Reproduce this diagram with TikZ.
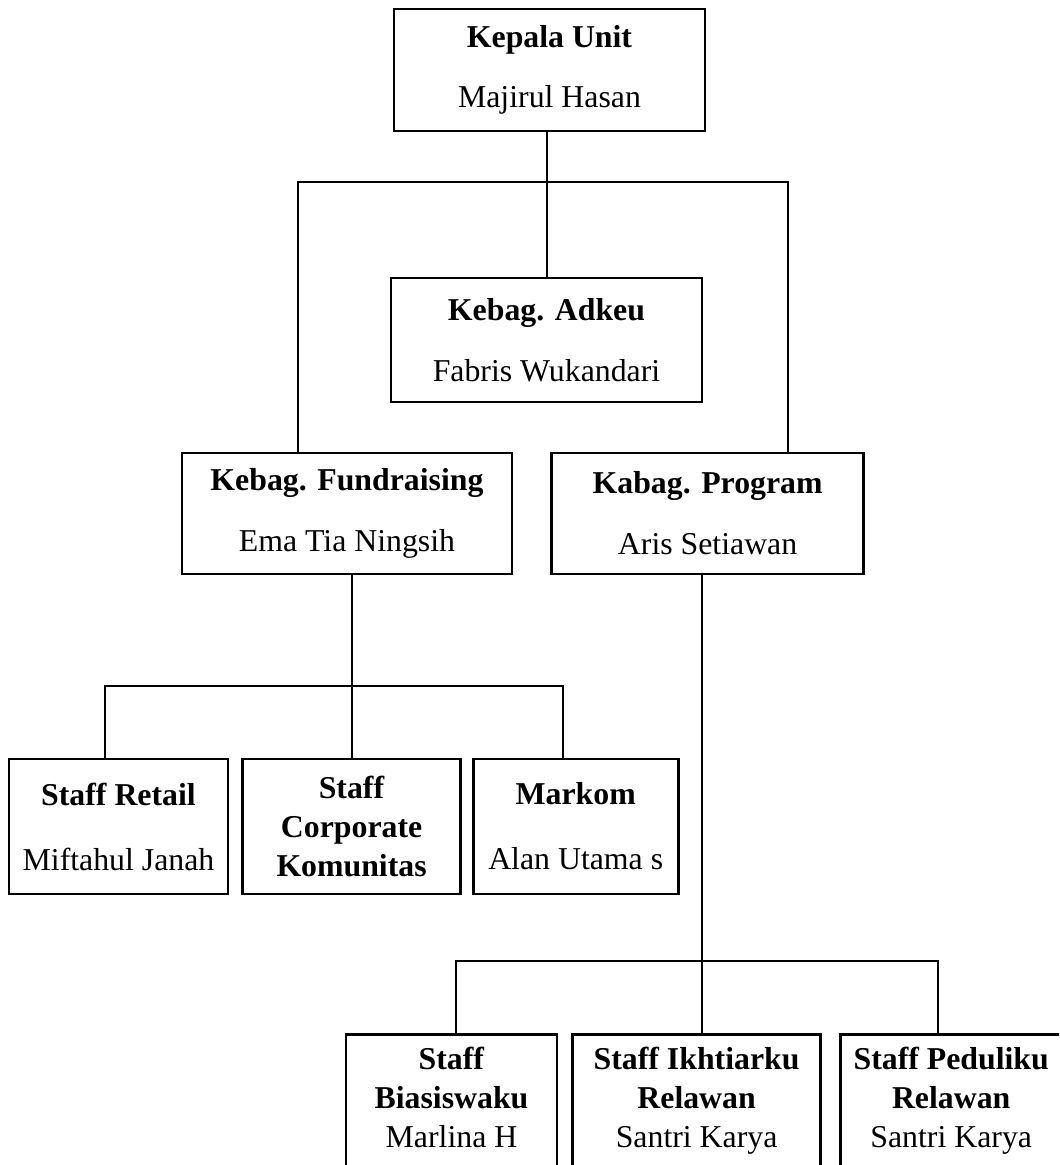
\documentclass[tikz,border=0pt]{standalone}
\usepackage{fontspec}
\setmainfont{Liberation Serif}
\usetikzlibrary{positioning}
\newcommand\orgfont{\fontsize{15.9pt}{19.5pt}\selectfont}
\tikzset{
  orgbox/.style={draw,line width=1.3pt,inner sep=0pt,align=center,font=\orgfont},
  link/.style={line width=1pt}
}
\begin{document}
\begin{tikzpicture}[x=0.5pt,y=-0.5pt]
  \useasboundingbox (0,0) rectangle (1059,1165);
  \clip (0,0) rectangle (1059,1165);
  % head and finance
  \node[orgbox,minimum width=155.5pt,minimum height=61pt] (kepala) at (549.5,70) {\textbf{Kepala Unit}\\[10.5pt]Majirul Hasan};
  \node[orgbox,minimum width=155.5pt,minimum height=62pt] (adkeu) at (546.5,340) {\textbf{Kebag. Adkeu}\\[11pt]Fabris Wukandari};
  % departments
  \node[orgbox,minimum width=165pt,minimum height=60.5pt] (fund) at (347,513.5) {\textbf{Kebag. Fundraising}\\[11pt]Ema Tia Ningsih};
  \node[orgbox,right=18.5pt of fund,minimum width=156pt,minimum height=60.5pt] (prog) {\textbf{Kabag. Program}\\[11pt]Aris Setiawan};
  % fundraising staff
  \node[orgbox,minimum width=109.5pt,minimum height=67.5pt] (retail) at (118.5,826.5) {\textbf{Staff Retail}\\[13pt]Miftahul Janah};
  \node[orgbox,right=6pt of retail,minimum width=109pt,minimum height=67.5pt] (corp) {\textbf{Staff}\\\textbf{Corporate}\\\textbf{Komunitas}};
  \node[orgbox,right=5pt of corp,minimum width=102.5pt,minimum height=67.5pt] (markom) {\textbf{Markom}\\[13pt]Alan Utama s};
  % program staff
  \node[orgbox,anchor=north,minimum width=105.5pt,minimum height=88.5pt] (bias) at (451.5,1033) {\textbf{Staff}\\\textbf{Biasiswaku}\\Marlina H\\\strut};
  \node[orgbox,right=6.5pt of bias,minimum width=124pt,minimum height=88.5pt] (ikht) {\textbf{Staff Ikhtiarku}\\\textbf{Relawan}\\Santri Karya\\\strut};
  \node[orgbox,right=8.5pt of ikht,minimum width=111pt,minimum height=88.5pt] (pedu) {\textbf{Staff Peduliku}\\\textbf{Relawan}\\Santri Karya\\\strut};
  % connectors
  \coordinate (topL) at (298,182);
  \coordinate (topR) at (788,182);
  \coordinate (midL) at (105,686);
  \coordinate (midR) at (563,686);
  \coordinate (botL) at (456,961);
  \coordinate (botC) at (702,961);
  \coordinate (botR) at (938,961);
  \draw[link] (kepala.south -| adkeu.north) -- (adkeu.north);
  \draw[link] (fund.north -| topL) -- (topL) -- (topR) -- (prog.north -| topR);
  \draw[link] (fund.south -| corp.north) -- (corp.north);
  \draw[link] (retail.north -| midL) -- (midL) -- (midR) -- (markom.north -| midR);
  \draw[link] (prog.south -| botC) -- (ikht.north -| botC);
  \draw[link] (bias.north -| botL) -- (botL) -- (botR) -- (pedu.north -| botR);
\end{tikzpicture}
\end{document}
